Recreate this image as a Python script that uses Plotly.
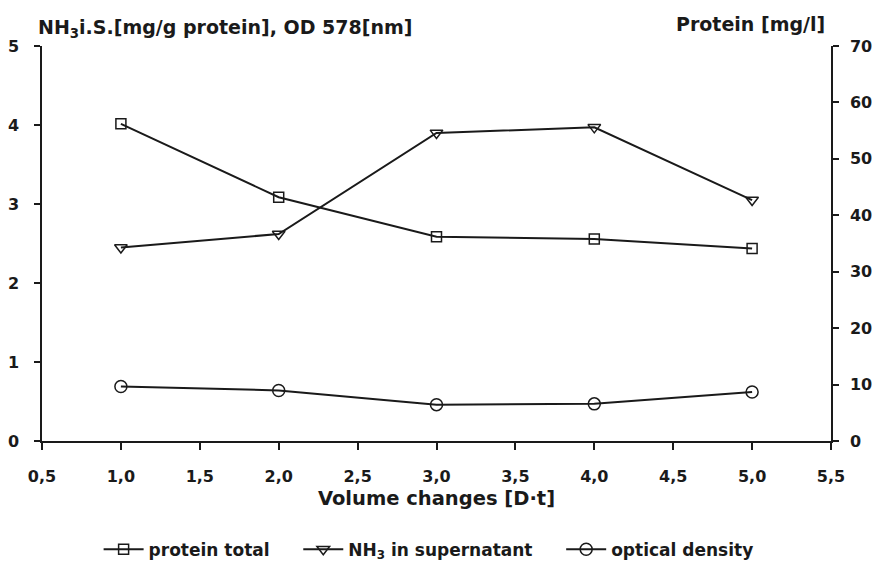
import plotly.graph_objects as go

# ---- data ----
volume_changes = [1.0, 2.0, 3.0, 4.0, 5.0]
protein_total = [56.2, 43.2, 36.2, 35.8, 34.1]          # right axis, mg/l
nh3_supernatant = [2.45, 2.62, 3.90, 3.97, 3.05]        # left axis
optical_density = [0.69, 0.64, 0.46, 0.47, 0.62]        # left axis

x_tickvals = [0.5, 1.0, 1.5, 2.0, 2.5, 3.0, 3.5, 4.0, 4.5, 5.0, 5.5]
x_ticktext = ["0,5", "1,0", "1,5", "2,0", "2,5", "3,0", "3,5", "4,0", "4,5", "5,0", "5,5"]
left_ticks = [0, 1, 2, 3, 4, 5]
right_ticks = [0, 10, 20, 30, 40, 50, 60, 70]

FONT = "DejaVu Sans"
INK = "#1a1a1a"
PAD = "\u00a0" * 4

fig = go.Figure()

fig.add_trace(go.Scatter(
    x=volume_changes, y=protein_total, yaxis="y2", name="protein total" + PAD,
    mode="lines+markers",
    line=dict(color=INK, width=2),
    marker=dict(symbol="square-open", size=10, color=INK, line=dict(width=1.5)),
))
fig.add_trace(go.Scatter(
    x=volume_changes, y=nh3_supernatant, yaxis="y", name="NH<sub>3</sub> in supernatant" + PAD,
    mode="lines+markers",
    line=dict(color=INK, width=2),
    marker=dict(symbol="triangle-down-open", size=11, color=INK, line=dict(width=1.5)),
))
fig.add_trace(go.Scatter(
    x=volume_changes, y=optical_density, yaxis="y", name="optical density",
    mode="lines+markers",
    line=dict(color=INK, width=2),
    marker=dict(symbol="circle-open", size=12, color=INK, line=dict(width=1.5)),
))

axis_font = dict(family=FONT, size=16, color=INK, weight="bold")

fig.update_layout(
    width=874, height=565,
    margin=dict(l=42, r=43, t=46, b=124, autoexpand=False),
    paper_bgcolor="white", plot_bgcolor="white",
    font=dict(family=FONT, color=INK),
    showlegend=True,
    legend=dict(
        orientation="h", x=0.49, xanchor="center", y=-0.275, yanchor="middle",
        font=dict(family=FONT, size=17, color=INK, weight="bold"),
        itemwidth=40, tracegroupgap=0,
    ),
    xaxis=dict(
        range=[0.5, 5.5], tickvals=x_tickvals, ticktext=x_ticktext,
        showline=True, linecolor=INK, linewidth=1.5,
        ticks="outside", ticklen=7, tickwidth=1.5, tickcolor=INK,
        ticklabelstandoff=13,
        showgrid=False, zeroline=False,
        tickfont=axis_font,
        title=dict(text="Volume changes [D·t]", standoff=6,
                   font=dict(family=FONT, size=19.5, color=INK, weight="bold")),
    ),
    yaxis=dict(
        range=[0, 5], tickvals=left_ticks,
        showline=True, linecolor=INK, linewidth=1.5,
        ticks="outside", ticklen=6, tickwidth=1.5, tickcolor=INK,
        ticklabelstandoff=12,
        showgrid=False, zeroline=False,
        tickfont=axis_font,
    ),
    yaxis2=dict(
        range=[0, 70], tickvals=right_ticks, overlaying="y", side="right",
        showline=True, linecolor=INK, linewidth=1.5,
        ticks="outside", ticklen=6, tickwidth=1.5, tickcolor=INK,
        ticklabelstandoff=8,
        showgrid=False, zeroline=False,
        tickfont=axis_font,
    ),
    annotations=[
        dict(text="NH<sub>3</sub>i.S.[mg/g protein], OD 578[nm]",
             xref="paper", yref="paper", x=-0.008, y=1.0, yshift=18,
             xanchor="left", yanchor="middle", showarrow=False,
             font=dict(family=FONT, size=19, color=INK, weight="bold")),
        dict(text="Protein [mg/l]",
             xref="paper", yref="paper", x=0.995, y=1.0, yshift=22,
             xanchor="right", yanchor="middle", showarrow=False,
             font=dict(family=FONT, size=19, color=INK, weight="bold")),
    ],
)

fig.write_html("out.html")
